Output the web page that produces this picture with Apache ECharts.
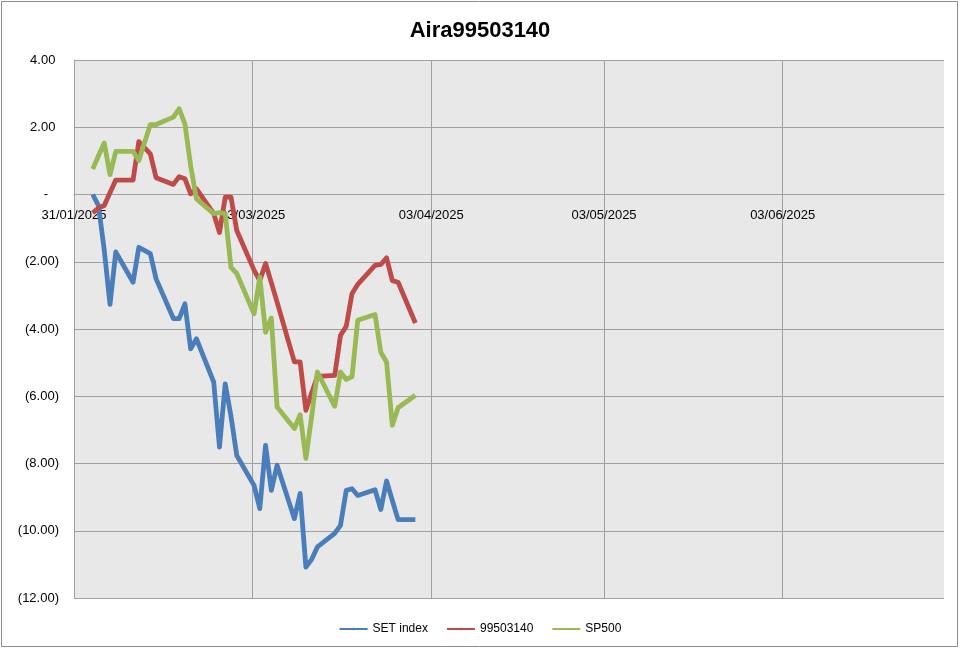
<!DOCTYPE html>
<html><head><meta charset="utf-8">
<script src="https://cdn.jsdelivr.net/npm/echarts@6/dist/echarts.min.js"></script>
<style>html,body{margin:0;padding:0;background:#fff}#c{width:960px;height:649px}</style>
</head><body><div id="c"></div>
<script>
const dates = [
  '2025-02-03','2025-02-04','2025-02-05','2025-02-06','2025-02-07',
  '2025-02-10','2025-02-11','2025-02-13','2025-02-14',
  '2025-02-17','2025-02-18','2025-02-19','2025-02-20','2025-02-21',
  '2025-02-24','2025-02-25','2025-02-26','2025-02-27','2025-02-28',
  '2025-03-03','2025-03-04','2025-03-05','2025-03-06','2025-03-07',
  '2025-03-10','2025-03-11','2025-03-12','2025-03-13','2025-03-14',
  '2025-03-17','2025-03-18','2025-03-19','2025-03-20','2025-03-21',
  '2025-03-24','2025-03-25','2025-03-26','2025-03-27','2025-03-28',
  '2025-03-31'
];
const setIndex = [
  0.00, -0.33, -1.65, -3.27, -1.71,
  -2.61, -1.57, -1.76, -2.51,
  -3.69, -3.69, -3.25, -4.59, -4.29,
  -5.58, -7.51, -5.63, -6.60, -7.76,
  -8.65, -9.34, -7.46, -8.80, -8.05,
  -9.64, -8.89, -11.08, -10.85, -10.48,
  -10.08, -9.84, -8.80, -8.75, -8.95,
  -8.78, -9.37, -8.52, -9.10, -9.67,
  -9.67
];
const fund99503140 = [
  -0.55, -0.40, -0.33, 0.05, 0.43,
  0.43, 1.57, 1.21, 0.50,
  0.30, 0.53, 0.47, 0.02, 0.17,
  -0.57, -1.13, -0.08, -0.08, -1.07,
  -2.25, -2.56, -2.05, -2.62, -3.20,
  -4.98, -4.98, -6.42, -5.90, -5.41,
  -5.38, -4.19, -3.92, -2.95, -2.67,
  -2.11, -2.08, -1.88, -2.56, -2.61,
  -3.82
];
const sp500 = [
  0.76, 1.15, 1.53, 0.59, 1.28,
  1.28, 1.01, 2.08, 2.08,
  2.30, 2.55, 2.10, 0.85, -0.13,
  -0.57, -0.54, -0.57, -2.17, -2.35,
  -3.55, -2.45, -4.10, -3.67, -6.32,
  -6.96, -6.55, -7.85, -6.60, -5.28,
  -6.30, -5.28, -5.50, -5.42, -3.74,
  -3.57, -4.69, -4.98, -6.86, -6.34,
  -5.97
];
const seriesNames = ['SET index', '99503140', 'SP500'];
const seriesColors = ['#4A7EBB', '#BE4B48', '#98B954'];
const xTickDates = ['2025-01-31','2025-03-03','2025-04-03','2025-05-03','2025-06-03'];
const xMinDate = '2025-01-31';
const xMaxDate = '2025-07-01';
const yMin = -12, yMax = 4, yStep = 2;

const W = 960, H = 649;
const GRID = { left: 74, right: 16, top: 60, bottom: 51 };
const plotH = H - GRID.top - GRID.bottom;
// horizontal axis crosses the vertical axis at value 0 (Excel style)
const xAxisOffset = -plotH * (0 - yMin) / (yMax - yMin);

const DAY = 86400000;
const ts = s => { const [y, m, d] = s.split('-').map(Number); return Date.UTC(y, m - 1, d); };
const ORIGIN = ts(xMinDate);
const dayNum = s => Math.round((ts(s) - ORIGIN) / DAY);
const POINT_SHIFT = 0.25; // points sit slightly inside their day slot
const pad = n => (n < 10 ? '0' : '') + n;
const fmtDay = v => { const d = new Date(ORIGIN + Math.round(v) * DAY); return pad(d.getUTCDate()) + '/' + pad(d.getUTCMonth() + 1) + '/' + d.getUTCFullYear(); };
// accounting-style labels: positives keep room for the closing bracket, zero is a dash
const fmtNum = v => {
  if (Math.abs(v) < 1e-9) return '-\u00a0\u00a0\u00a0';
  const s = Math.abs(v).toFixed(2);
  return v < 0 ? '(' + s + ')' : s + '\u00a0';
};
const xTicks = xTickDates.map(dayNum);
const toData = arr => arr.map((v, i) => [dayNum(dates[i]) + POINT_SHIFT, v]);
const allValues = [setIndex, fund99503140, sp500];
const FONT = 'Liberation Sans, Arial, sans-serif';

const chart = echarts.init(document.getElementById('c'), null, { renderer: 'canvas' });
chart.setOption({
  animation: false,
  backgroundColor: '#ffffff',
  title: {
    text: 'Aira99503140', left: 'center', top: 15,
    textStyle: { fontFamily: 'Liberation Sans Narrow, Liberation Sans, sans-serif', fontWeight: 'bold', fontSize: 22, color: '#000' }
  },
  graphic: [{
    type: 'rect', silent: true, z: -10,
    shape: { x: 1.5, y: 1.5, width: 956, height: 645 },
    style: { fill: 'none', stroke: '#8c8c8c', lineWidth: 1 }
  }],
  grid: { left: GRID.left, right: GRID.right, top: GRID.top, bottom: GRID.bottom, show: true, backgroundColor: '#E8E8E8', borderWidth: 0 },
  legend: {
    bottom: 9, left: 'center', itemWidth: 28, itemHeight: 3, itemGap: 18,
    textStyle: { fontSize: 12, color: '#000', fontFamily: FONT },
    data: seriesNames
  },
  xAxis: {
    type: 'value', min: 0, max: dayNum(xMaxDate), position: 'bottom', offset: xAxisOffset,
    axisLine: { show: true, onZero: false, lineStyle: { color: '#a0a0a0', width: 1 } },
    axisTick: { show: false, customValues: xTicks },
    axisLabel: { customValues: xTicks, formatter: v => fmtDay(v), margin: 14, fontSize: 13, color: '#000', fontFamily: FONT, hideOverlap: false },
    splitLine: { show: true, lineStyle: { color: '#a0a0a0', width: 1 } }
  },
  yAxis: {
    type: 'value', min: yMin, max: yMax, interval: yStep,
    axisLine: { show: true, onZero: false, lineStyle: { color: '#a0a0a0', width: 1 } },
    axisTick: { show: false },
    axisLabel: { formatter: v => fmtNum(v), fontSize: 13, color: '#000', fontFamily: FONT, margin: 15 },
    splitLine: { show: true, lineStyle: { color: '#a0a0a0', width: 1 } }
  },
  series: seriesNames.map((name, k) => ({
    name, type: 'line', data: toData(allValues[k]),
    symbol: 'none', color: seriesColors[k],
    lineStyle: { width: 4.8, color: seriesColors[k], join: 'round' }
  }))
});
</script>
</body></html>
